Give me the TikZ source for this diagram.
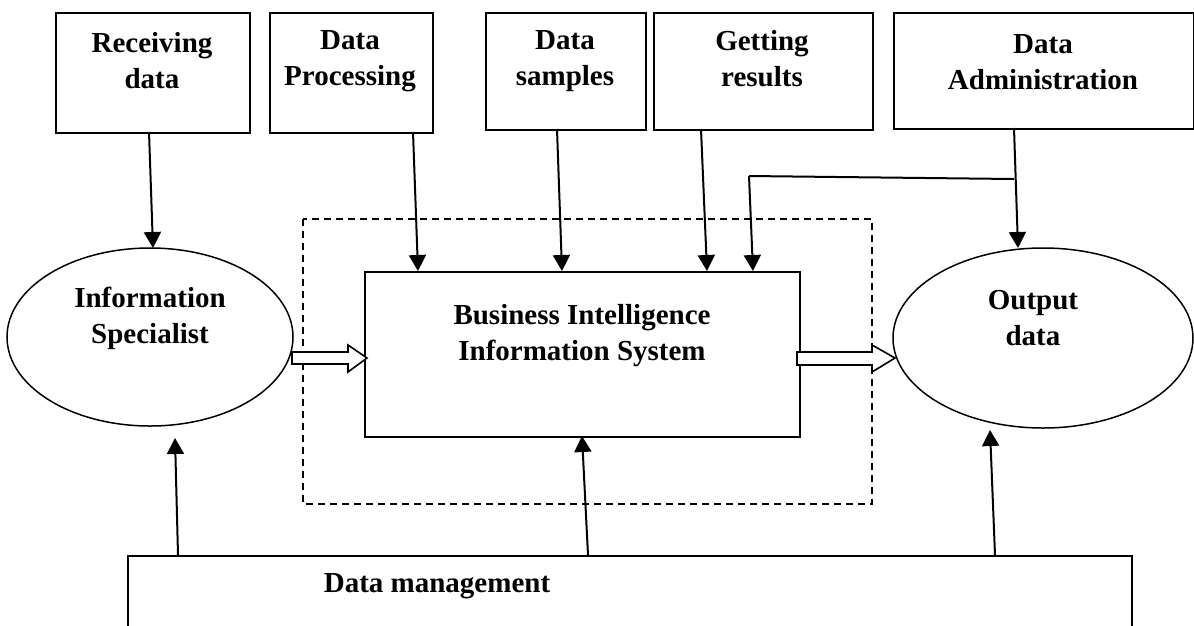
\documentclass[tikz,border=0pt]{standalone}
\usepackage{fontspec}
\setmainfont{Liberation Serif}
\usetikzlibrary{arrows.meta,shapes.geometric}
\begin{document}
\begin{tikzpicture}[x=1pt,y=-1pt,
  box/.style={draw,line width=1.7pt,rectangle,inner sep=0pt,anchor=north west},
  ell/.style={draw,line width=1.5pt,ellipse,inner sep=0pt},
  lbl/.style={align=center,font=\fontsize{29}{36}\selectfont\bfseries,inner sep=0pt},
  conn/.style={line width=2pt,-{Triangle[width=17pt,length=16pt]}},
  hollow/.style={draw,line width=1.6pt,fill=white,line join=miter}]
\useasboundingbox (0,0) rectangle (1194,625);
% top boxes
\node[box,minimum width=194,minimum height=120] (rd) at (55,12) {};
\node[box,minimum width=163,minimum height=120] (dp) at (269,12) {};
\node[box,minimum width=160,minimum height=117] (ds) at (485,12) {};
\node[box,minimum width=219,minimum height=117] (gr) at (653,12) {};
\node[box,minimum width=300,minimum height=116] (da) at (893,12) {};
\node[lbl] (rdt) at (152,61) {Receiving\\data};
\node[lbl] (dpt) at (350,61) {Data\\Processing};
\node[lbl] (dst) at (565,61) {Data\\samples};
\node[lbl] (grt) at (762,59) {Getting\\results};
\node[lbl] (dat) at (1043,62) {Data\\Administration};
% dashed frame
\draw[dashed,line width=1.5pt,dash pattern=on 7pt off 5pt] (303,219) rectangle (872,504);
% central box
\node[box,minimum width=435,minimum height=165] (bi) at (364,271) {};
\node[lbl] (bit) at (582,336) {Business Intelligence\\Information System};
% ellipses
\node[ell,minimum width=286,minimum height=178] (is) at (150,337) {};
\node[lbl] (ist) at (150,318) {Information\\Specialist};
\node[ell,minimum width=300,minimum height=180] (od) at (1043,338) {};
\node[lbl] (odt) at (1033,318) {Output\\data};
% bottom box
\node[box,minimum width=1004,minimum height=90] (dm) at (127,555) {};
\node[lbl] (dmt) at (437,586) {Data management};
% connection points
\coordinate (rdo) at (149,132);
\coordinate (dpo) at (413,132);
\coordinate (dso) at (557,129);
\coordinate (gro) at (701,129);
\coordinate (dao) at (1014,128);
\coordinate (dab) at (1014,179);
\coordinate (bend) at (749,176);
\coordinate (ist1) at (153,248);
\coordinate (bit1) at (418,271);
\coordinate (bit2) at (562,271);
\coordinate (bit3) at (707,271);
\coordinate (bit4) at (753,271);
\coordinate (odt1) at (1018,248);
\coordinate (dm1) at (178,555);
\coordinate (dm2) at (588,555);
\coordinate (dm3) at (995,555);
\coordinate (isb) at (175,438);
\coordinate (bib) at (582,436);
\coordinate (odb) at (990,430);
% top arrows
\draw[conn] (rdo) -- (ist1);
\draw[conn] (dpo) -- (bit1);
\draw[conn] (dso) -- (bit2);
\draw[conn] (gro) -- (bit3);
\draw[conn] (dao) -- (odt1);
\draw[line width=2pt] (dab) -- (bend);
\draw[conn] (bend) -- (bit4);
% bottom arrows
\draw[conn] (dm1) -- (isb);
\draw[conn] (dm2) -- (bib);
\draw[conn] (dm3) -- (odb);
% hollow arrows
\draw[hollow] (292,352) -- (348,352) -- (348,345) -- (367,358) -- (348,372) -- (348,364) -- (292,364) -- cycle;
\draw[hollow] (797,352) -- (872,352) -- (872,345) -- (895,358) -- (872,372) -- (872,365) -- (797,365) -- cycle;
\end{tikzpicture}
\end{document}
